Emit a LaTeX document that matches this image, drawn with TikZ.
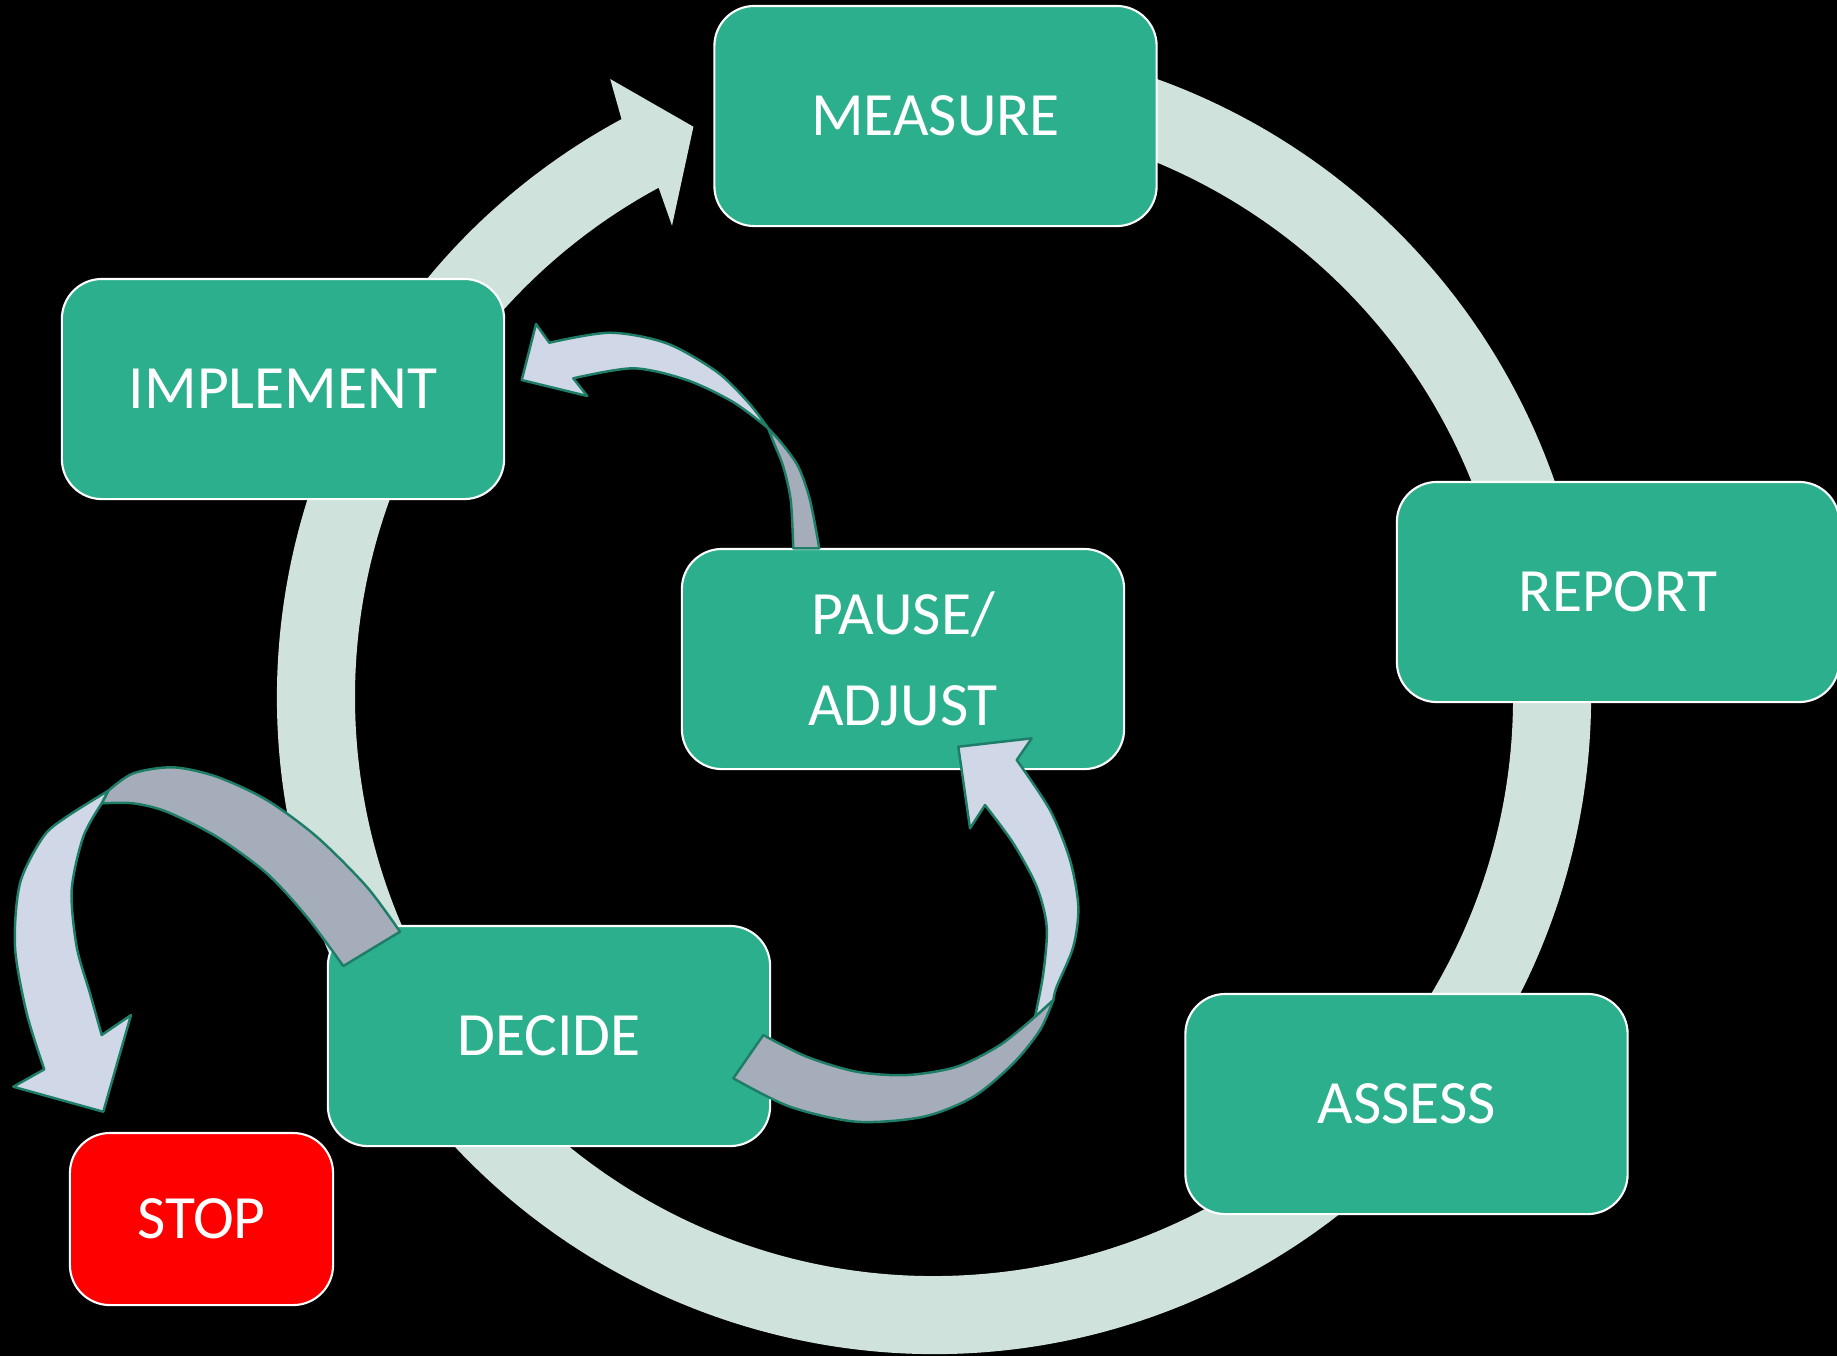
\documentclass[tikz,border=0pt]{standalone}
\usepackage{fontspec}
\setmainfont{Carlito}
\usetikzlibrary{calc}

\definecolor{stagegreen}{RGB}{43,175,140}
\definecolor{ringgrey}{RGB}{207,227,220}
\definecolor{ribbonfront}{RGB}{208,216,232}
\definecolor{ribbonback}{RGB}{166,173,186}
\definecolor{ribbonedge}{RGB}{30,125,102}
\definecolor{stopred}{RGB}{255,0,0}

\begin{document}
\begin{tikzpicture}[x=0.01cm, y=0.01cm,
	stage/.style={draw=white, line width=0.6pt, fill=stagegreen, rounded corners=0.4cm, minimum width=4.42cm, minimum height=2.2cm, text=white, align=center, font=\fontsize{17.5}{26}\selectfont},
	stopbox/.style={stage, fill=stopred, minimum width=2.63cm, minimum height=1.72cm},
	front/.style={fill=ribbonfront, draw=ribbonedge, line width=0.7pt, line join=round},
	back/.style={fill=ribbonback, draw=ribbonedge, line width=0.7pt, line join=round}]
		\fill[black] (0,0) rectangle (1837,-1356);
		\useasboundingbox (0,0) rectangle (1837,-1356);
		
		% Cycle ring
		\coordinate (hub) at (934,-697);
		\fill[ringgrey] ($(hub)+(118.4:657)$) arc[start angle=118.4, end angle=455, radius=657]
			-- ($(hub)+(95:579)$) arc[start angle=455, end angle=118.4, radius=579]
			-- (672,-225.7) -- (693.4,-126.7) -- (610.2,-79) -- cycle;
		
		% Stages
		\node[stage] (measure) at (935.5,-116) {MEASURE};
		\node[stage] (report) at (1618,-592) {REPORT};
		\node[stage] (assess) at (1406.5,-1104) {ASSESS};
		\node[stage] (decide) at (549,-1036) {DECIDE};
		\node[stage] (implement) at (283,-389) {IMPLEMENT};
		\node[stage] (pause) at (903,-659) {PAUSE/\\ADJUST};
		\node[stopbox] (stop) at (201.5,-1219) {STOP};
		
		% Pause -> implement
		\draw[back] plot[smooth] coordinates {(768,-428) (781.7,-443.3) (798.3,-466.7) (810,-500) (819.3,-548.3)}
			-- (793.3,-548.3)
			-- plot[smooth] coordinates {(793.3,-548.3) (790.7,-500) (783.3,-466.7) (774,-443.3) (768,-428)} -- cycle;
		\draw[front] plot[smooth] coordinates {(768,-428) (748,-402) (716.7,-371.7) (666.7,-343.3) (610,-332.7) (549.3,-342.7)}
			-- (536,-324) -- (521.7,-380) -- (587.3,-396) -- (573.3,-378.3)
			-- plot[smooth] coordinates {(573.3,-378.3) (633.3,-368.3) (686.7,-380) (733,-402) (768,-428)} -- cycle;
		
		% Decide -> pause
		\draw[back] plot[smooth] coordinates {(763.3,-1035) (806.7,-1056.7) (856.7,-1071.7) (906.7,-1075) (956.7,-1066.7) (1000,-1045) (1035,-1016.7)}
			-- (1053.3,-1000)
			-- plot[smooth] coordinates {(1053.3,-1000) (1040,-1030) (1013.3,-1063.3) (973.3,-1096.7) (923.3,-1116.7) (856.7,-1121.7) (790,-1106.7) (733.3,-1078.3)} -- cycle;
		\draw[front] plot[smooth] coordinates {(1035,-1016.7) (1043.3,-973.3) (1046.7,-926.7) (1036.7,-886.7) (1013.3,-843.3) (985,-805)}
			-- (970,-828.3) -- (958.3,-746.7) -- (1031.7,-738.3) -- (1016.7,-760)
			-- plot[smooth] coordinates {(1016.7,-760) (1050,-810) (1070,-860) (1078.3,-906.7) (1073.3,-946.7) (1056.7,-986.7) (1053.3,-1000)} -- cycle;
		
		% Decide -> stop
		\draw[back] plot[smooth] coordinates {(400,-931.7) (366.7,-886.7) (316.7,-836.7) (266.7,-800) (216.7,-776.7) (173.3,-767.3) (133.3,-773.3) (108.3,-790.7)}
			-- (101.7,-803.3)
			-- plot[smooth] coordinates {(101.7,-803.3) (133.3,-803.3) (166.7,-811.7) (216.7,-836.7) (266.7,-873.3) (306.7,-916.7) (343.3,-966)} -- cycle;
		\draw[front] plot[smooth] coordinates {(101.7,-803.3) (83.3,-836.7) (71.7,-890) (76.7,-946.7) (90,-993.3) (101.7,-1035)}
			-- (131,-1015) -- (103.3,-1111.7) -- (13.3,-1086.7) -- (44.3,-1069.3)
			-- plot[smooth] coordinates {(44.3,-1069.3) (26.7,-1013.3) (15,-946.7) (20,-883.3) (43.3,-836.7) (66.7,-816.7) (108.3,-790.7)} -- cycle;
		
	\end{tikzpicture}
\end{document}
